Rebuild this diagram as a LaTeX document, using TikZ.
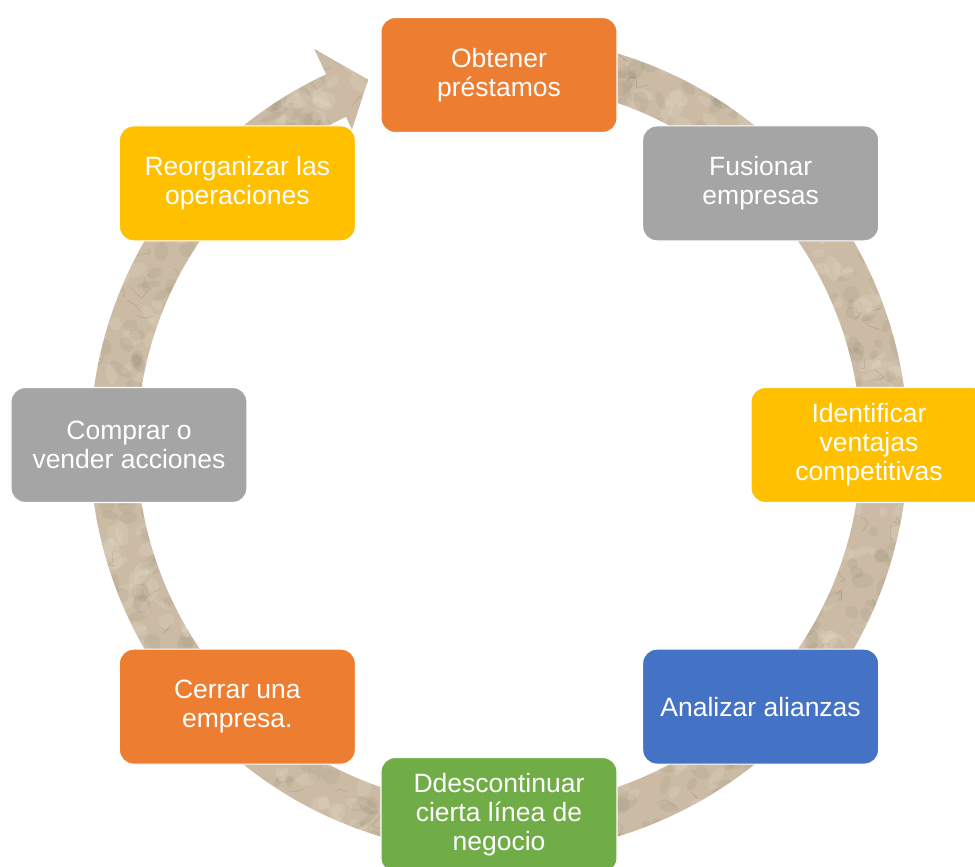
\documentclass[tikz,border=0pt]{standalone}
\usepackage{fontspec}
\setmainfont{Liberation Sans}
\usepackage{tikz}
\usetikzlibrary{positioning}

\definecolor{boxorange}{HTML}{ED7D31}
\definecolor{boxgray}{HTML}{A5A5A5}
\definecolor{boxgold}{HTML}{FFC000}
\definecolor{boxblue}{HTML}{4472C4}
\definecolor{boxgreen}{HTML}{70AD47}
\definecolor{paper}{HTML}{CBBBA4}
\definecolor{paperdark}{HTML}{6F6456}
\definecolor{paperlight}{HTML}{F0E8DA}

\begin{document}
\begin{tikzpicture}[x=1pt, y=1pt]
% STYLES
\tikzset{
    stage/.style={rectangle, rounded corners=14pt, draw=white, line width=1.2pt,
    minimum width=236pt, minimum height=115pt, align=center, text=white,
    font=\fontsize{26.5}{29}\selectfont, inner sep=4pt}
}

\useasboundingbox (-499,-422) rectangle (476,445);

% the circular arrow behind the stages, with a crumpled paper look
\begin{scope}
\clip (80:409) arc[start angle=80, end angle=-245, radius=409]
   -- (-245:437) -- (-250.3:388) -- (-245:348) -- (-245:362)
   arc[start angle=-245, end angle=80, radius=362] -- cycle;
\fill[paper] (-480,-480) rectangle (480,480);
\pgfmathsetseed{11}
\foreach \i in {1,...,900} {
  \pgfmathsetmacro{\ang}{rnd*360}
  \pgfmathsetmacro{\rad}{340+rnd*105}
  \pgfmathsetmacro{\tone}{rnd}
  \ifdim\tone pt<0.5pt
    \fill[paperdark, opacity=0.09] (\ang:\rad) ellipse[x radius={4+rnd*9}, y radius={3+rnd*6}, rotate={rnd*180}];
  \else
    \fill[paperlight, opacity=0.16] (\ang:\rad) ellipse[x radius={4+rnd*9}, y radius={3+rnd*6}, rotate={rnd*180}];
  \fi
}
\foreach \i in {1,...,140} {
  \pgfmathsetmacro{\ang}{rnd*360}
  \pgfmathsetmacro{\rad}{350+rnd*90}
  \draw[paperdark, opacity=0.22, line width=0.7pt, line join=round] (\ang:\rad) -- ++({rnd*26-13},{rnd*26-13}) -- ++({rnd*18-9},{rnd*18-9});
}
\end{scope}

% the stages, clockwise from the top
\node [stage, fill=boxorange] (Loans) at (90:370) {Obtener\\préstamos};
\node [stage, fill=boxgray] (Merge) at (45:370) {Fusionar\\empresas};
\node [stage, fill=boxgold] (Advantages) at (0:370) {Identificar\\ventajas\\competitivas};
\node [stage, fill=boxblue] (Alliances) at (-45:370) {Analizar alianzas};
\node [stage, fill=boxgreen] (Discontinue) at (-90:370) {Ddescontinuar\\cierta línea de\\negocio};
\node [stage, fill=boxorange] (Close) at (-135:370) {Cerrar una\\empresa.};
\node [stage, fill=boxgray] (Shares) at (180:370) {Comprar o\\vender acciones};
\node [stage, fill=boxgold] (Reorganize) at (135:370) {Reorganizar las\\operaciones};
\end{tikzpicture}
\end{document}
